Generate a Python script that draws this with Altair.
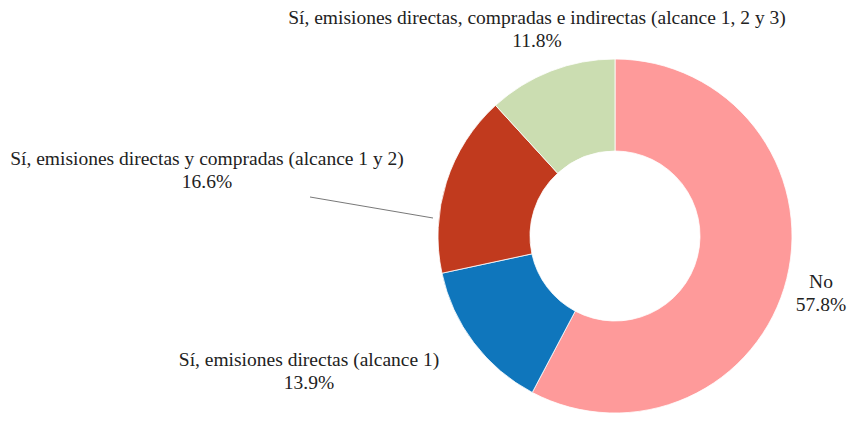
import altair as alt
import pandas as pd

categories = [
    "No",
    "Sí, emisiones directas (alcance 1)",
    "Sí, emisiones directas y compradas (alcance 1 y 2)",
    "Sí, emisiones directas, compradas e indirectas (alcance 1, 2 y 3)",
]
values = [57.8, 13.9, 16.6, 11.8]
colors = ["#FE9A9A", "#0F76BC", "#C13A1E", "#CBDDB1"]

df = pd.DataFrame({
    "cat": categories,
    "val": values,
    "ord": list(range(len(categories))),
    "pct": [f"{v:.1f}%" for v in values],
})

# label anchor positions (plot coordinates) for each category
label_pos = {
    categories[0]: (813, 274),
    categories[1]: (301, 352),
    categories[2]: (199, 151),
    categories[3]: (529, 10),
}
df["lx"] = [label_pos[c][0] for c in categories]
df["ly"] = [label_pos[c][1] for c in categories]
df["ly2"] = df["ly"] + 23

W, H = 839, 408
CX, CY = 607, 228
SERIF = "Liberation Serif"

arc = alt.Chart(df).mark_arc(outerRadius=177, innerRadius=85, stroke="white", strokeWidth=0.8).encode(
    theta=alt.Theta("val:Q", stack=True),
    order=alt.Order("ord:Q"),
    color=alt.Color("cat:N", scale=alt.Scale(domain=categories, range=colors), legend=None),
    x=alt.value(CX),
    y=alt.value(CY),
)

font = dict(font=SERIF, fontSize=19.5, color="#222222", align="center", baseline="middle")

names = alt.Chart(df).mark_text(**font).encode(
    x=alt.X("lx:Q", scale=None),
    y=alt.Y("ly:Q", scale=None),
    text="cat:N",
)
pcts = alt.Chart(df).mark_text(**font).encode(
    x=alt.X("lx:Q", scale=None),
    y=alt.Y("ly2:Q", scale=None),
    text="pct:N",
)

leader = alt.Chart(df).transform_filter(alt.datum.ord == 2).mark_rule(color="#555555", strokeWidth=0.8).encode(
    x=alt.value(302), y=alt.value(189), x2=alt.value(425), y2=alt.value(210)
)

chart = alt.layer(arc, leader, names, pcts).properties(
    width=W, height=H, padding=0,
    autosize=alt.AutoSizeParams(type="fit", contains="padding"),
).configure(font=SERIF).configure_text(font=SERIF).configure_view(stroke=None)

chart.save("out.html", embed_options={"renderer": "svg", "actions": False})
